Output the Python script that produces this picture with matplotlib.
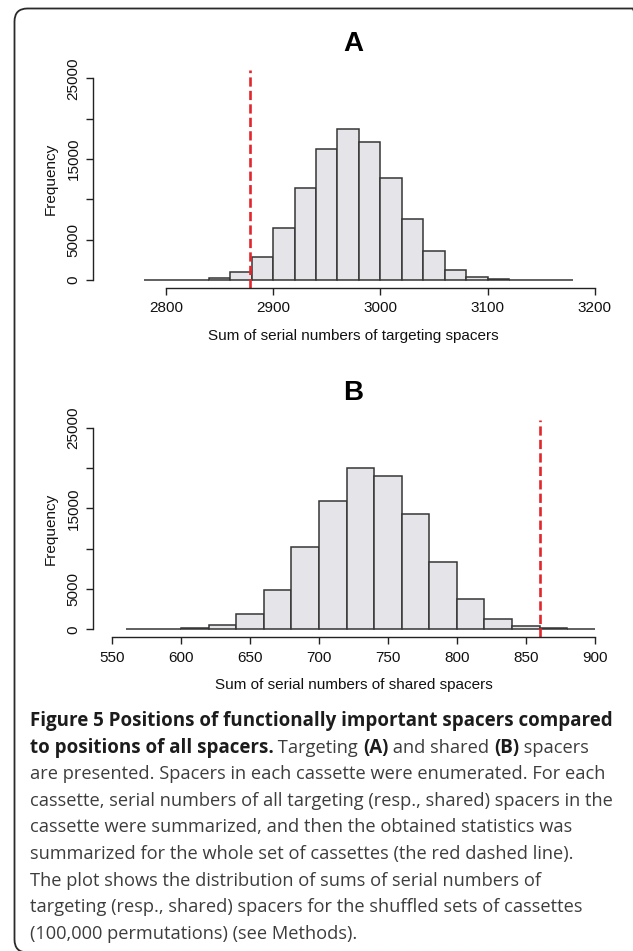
import numpy as np
import matplotlib.pyplot as plt
from matplotlib.patches import FancyBboxPatch
from matplotlib.transforms import IdentityTransform

# Panel A: sums of serial numbers of targeting spacers (bin left edges, counts)
a_left = [2780, 2800, 2820, 2840, 2860, 2880, 2900, 2920, 2940, 2960,
          2980, 3000, 3020, 3040, 3060, 3080, 3100, 3120, 3140, 3160]
a_count = [0, 10, 80, 330, 1030, 2930, 6450, 11360, 16280, 18760,
           17070, 12600, 7560, 3640, 1240, 410, 120, 30, 5, 2]
a_obs = 2878
a_xticks = [2800, 2900, 3000, 3100, 3200]

# Panel B: sums of serial numbers of shared spacers
b_left = [560, 580, 600, 620, 640, 660, 680, 700, 720, 740,
          760, 780, 800, 820, 840, 860, 880]
b_count = [5, 20, 120, 580, 1860, 4830, 10170, 15870, 20040, 18940,
           14320, 8360, 3770, 1310, 400, 110, 25]
b_obs = 860
b_xticks = [550, 600, 650, 700, 750, 800, 850, 900]

yticks = [0, 5000, 10000, 15000, 20000, 25000]
ylabels = ["0", "5000", "", "15000", "", "25000"]

caption = [
    [("Figure 5 Positions of functionally important spacers compared", True)],
    [("to positions of all spacers.", True), (" Targeting ", False), ("(A)", True),
     (" and shared ", False), ("(B)", True), (" spacers", False)],
    [("are presented. Spacers in each cassette were enumerated. For each", False)],
    [("cassette, serial numbers of all targeting (resp., shared) spacers in the", False)],
    [("cassette were summarized, and then the obtained statistics was", False)],
    [("summarized for the whole set of cassettes (the red dashed line).", False)],
    [("The plot shows the distribution of sums of serial numbers of", False)],
    [("targeting (resp., shared) spacers for the shuffled sets of cassettes", False)],
    [("(100,000 permutations) (see Methods).", False)],
]

W, H = 633, 951
plt.rcParams['font.family'] = ['Liberation Sans', 'DejaVu Sans']
fig = plt.figure(figsize=(W / 100, H / 100), dpi=100)


def add_px_axes(l, t, r, b):
    return fig.add_axes([l / W, 1 - b / H, (r - l) / W, (b - t) / H])


def panel(ax, left, count, obs, xlim, xticks, title, xlabel):
    ax.bar(left, count, width=20, align='edge', color='#e4e4e9',
           edgecolor='#363636', linewidth=1.1)
    ax.axvline(obs, color='#e2262c', lw=1.9, dashes=(3.5, 1.6))
    ax.set_xlim(*xlim)
    ax.set_ylim(-1000, 26000)
    for s in ['top', 'right']:
        ax.spines[s].set_visible(False)
    ax.spines['left'].set_bounds(0, 25000)
    ax.spines['bottom'].set_bounds(xticks[0], xticks[-1])
    for s in ['left', 'bottom']:
        ax.spines[s].set_linewidth(1.0)
        ax.spines[s].set_color('#222222')
    ax.set_xticks(xticks)
    ax.set_yticks(yticks)
    ax.set_yticklabels(ylabels, rotation=90, va='center')
    ax.tick_params(direction='out', length=5, width=1.0, color='#222222',
                   labelsize=11, labelcolor='#111111')
    ax.tick_params(axis='x', pad=4.5)
    ax.tick_params(axis='y', pad=4)
    ax.set_ylabel("Frequency", fontsize=11, color='#111111', labelpad=6)
    ax.set_xlabel(xlabel, fontsize=11, color='#111111', labelpad=9.5)
    ax.set_title(title, fontsize=20, fontweight='bold', pad=14)
    ax.patch.set_alpha(0)


ax0 = add_px_axes(93, 70.2, 614, 288.3)
panel(ax0, a_left, a_count, a_obs, (2732, 3218), a_xticks, "A",
      "Sum of serial numbers of targeting spacers")

ax1 = add_px_axes(93, 419.5, 614, 637.4)
panel(ax1, b_left, b_count, b_obs, (536, 914), b_xticks, "B",
      "Sum of serial numbers of shared spacers")

# rounded frame, running off the right and bottom edges (display px, origin bottom-left)
frame = FancyBboxPatch((14.5, -1.5), 631, 944, boxstyle="round,pad=0,rounding_size=13",
                       transform=IdentityTransform(), fill=False,
                       edgecolor='#2a2a2a', linewidth=1.3)
fig.patches.append(frame)

# caption, drawn run by run
r = fig.canvas.get_renderer()


def text_width(s, bold, fs):
    t = fig.text(0, 0, s, fontsize=fs, fontweight='bold' if bold else 'normal',
                 family='Open Sans')
    w = t.get_window_extent(renderer=r).width
    t.remove()
    return w


bold_fs = 12 * 582 / text_width(caption[0][0][0], True, 12)
norm_fs = 12 * 582 / text_width(caption[3][0][0], False, 12)

y0 = 726
for i, line in enumerate(caption):
    x = 29.5
    y = y0 + i * 26.6
    for s, bold in line:
        t = fig.text(x / W, 1 - y / H, s, fontsize=bold_fs if bold else norm_fs,
                     fontweight='bold' if bold else 'normal',
                     color='#1c1c1c' if bold else '#3d3d3d',
                     family='Open Sans', va='baseline', ha='left')
        x += t.get_window_extent(renderer=r).width

fig.savefig("out.png", dpi=100)
